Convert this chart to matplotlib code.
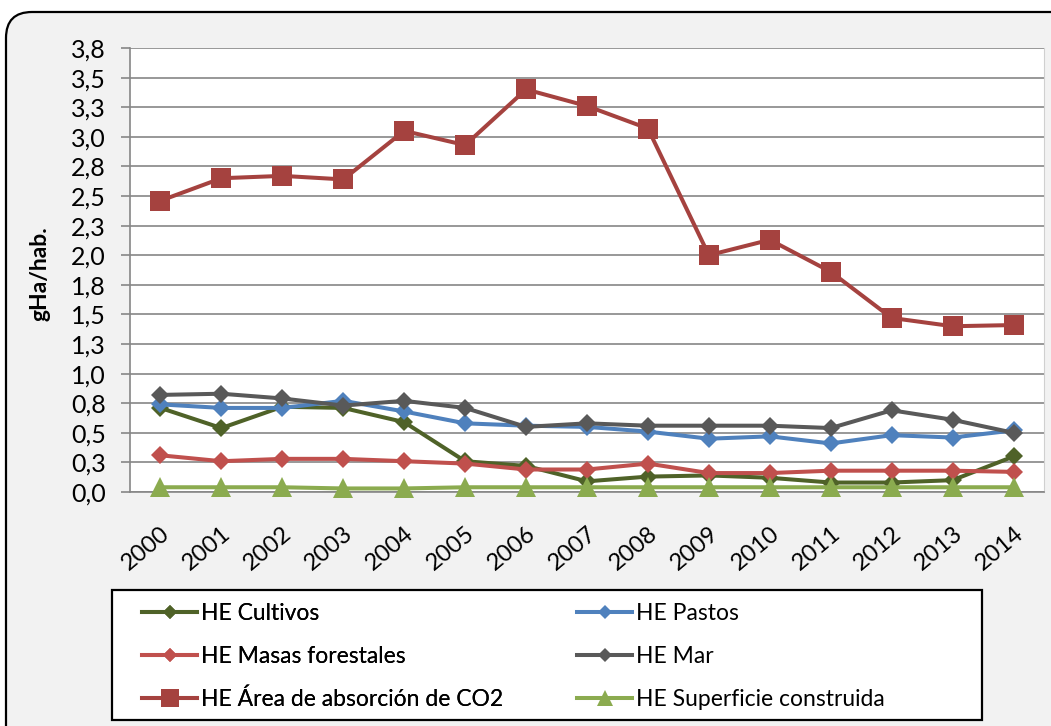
import matplotlib
matplotlib.use("Agg")
import matplotlib.pyplot as plt
from matplotlib.lines import Line2D
from matplotlib.patches import FancyBboxPatch, Rectangle

plt.rcParams["font.family"] = ["Lato", "DejaVu Sans"]

years = [str(y) for y in range(2000, 2015)]
cultivos = [0.71, 0.54, 0.72, 0.71, 0.59, 0.26, 0.22, 0.09, 0.13, 0.14, 0.12, 0.08, 0.08, 0.10, 0.30]
pastos = [0.74, 0.71, 0.71, 0.77, 0.68, 0.58, 0.56, 0.55, 0.51, 0.45, 0.47, 0.41, 0.48, 0.46, 0.52]
masas = [0.31, 0.26, 0.28, 0.28, 0.26, 0.24, 0.19, 0.19, 0.24, 0.16, 0.16, 0.18, 0.18, 0.18, 0.17]
mar = [0.82, 0.83, 0.79, 0.73, 0.77, 0.71, 0.55, 0.58, 0.56, 0.56, 0.56, 0.54, 0.69, 0.61, 0.50]
co2 = [2.46, 2.65, 2.67, 2.64, 3.05, 2.93, 3.40, 3.26, 3.07, 2.00, 2.13, 1.86, 1.47, 1.40, 1.41]
superficie = [0.04, 0.04, 0.04, 0.03, 0.03, 0.04, 0.04, 0.04, 0.04, 0.04, 0.04, 0.04, 0.04, 0.04, 0.04]

y_ticks = [0.0, 0.25, 0.5, 0.75, 1.0, 1.25, 1.5, 1.75, 2.0, 2.25, 2.5, 2.75, 3.0, 3.25, 3.5, 3.75]
y_labels = ["0,0", "0,3", "0,5", "0,8", "1,0", "1,3", "1,5", "1,8",
            "2,0", "2,3", "2,5", "2,8", "3,0", "3,3", "3,5", "3,8"]

# label, values, colour, marker, size in plot, size in legend
series = [
    ("HE Cultivos", cultivos, "#4f6228", "D", 9.5, 7),
    ("HE Pastos", pastos, "#4f81bd", "D", 9.5, 7),
    ("HE Masas forestales", masas, "#c0504d", "D", 9.5, 7),
    ("HE Mar", mar, "#595959", "D", 9.5, 7),
    ("HE Área de absorción de CO2", co2, "#a5423f", "s", 15, 13),
    ("HE Superficie construida", superficie, "#8bab4f", "^", 14.5, 12),
]

W, H = 1051, 726
fig = plt.figure(figsize=(W / 100, H / 100), dpi=100)
fig.patch.set_facecolor("white")

# rounded chart frame, pixel coords
frame = FancyBboxPatch((6, -40), 1100, H - 12 + 40,
                       boxstyle="round,pad=0,rounding_size=26",
                       transform=None, facecolor="#f2f2f2",
                       edgecolor="black", linewidth=1.6, zorder=-5)
fig.add_artist(frame)

ax = fig.add_axes([130 / W, 1 - 492 / H, (1044 - 130) / W, (492 - 48) / H])
ax.set_facecolor("white")

x = list(range(len(years)))
proxies = []
for label, vals, color, marker, ms, lms in series:
    ax.plot(x, vals, color=color, lw=2.9, marker=marker, ms=ms,
            markeredgewidth=0, clip_on=False, zorder=3)
    proxies.append(Line2D([], [], color=color, lw=2.9, marker=marker, ms=lms,
                          markeredgewidth=0, label=label))

ax.set_xlim(-0.5, len(years) - 0.5)
ax.set_ylim(0, 3.75)
ax.set_yticks(y_ticks)
ax.set_yticklabels(y_labels)
ax.set_xticks(x)
ax.set_xticklabels(years, rotation=40, ha="right", va="top", rotation_mode="anchor")
ax.tick_params(axis="y", length=6.5, width=1.2, color="#868686", pad=11, labelsize=18)
ax.tick_params(axis="x", length=0, pad=22, labelsize=17)
ax.grid(axis="y", color="#868686", lw=1.2)
ax.set_axisbelow(True)
ax.spines["top"].set_visible(False)
ax.spines["right"].set_color("#d0d0d0")
for s in ["left", "bottom"]:
    ax.spines[s].set_color("#868686")
    ax.spines[s].set_linewidth(1.2)

fig.text(40 / W, 1 - 274 / H, "gHa/hab.", rotation=90, ha="center", va="center",
         fontsize=16.5, fontweight="bold")

# legend box
fig.add_artist(Rectangle((112, H - 720), 870, 130, transform=None,
                         facecolor="white", edgecolor="black", linewidth=1.6, zorder=1))

col1 = [proxies[0], proxies[2], proxies[4]]
col2 = [proxies[1], proxies[3], proxies[5]]
leg_kw = dict(loc="upper left", frameon=False, fontsize=16.5, handlelength=2.4,
              handletextpad=0.18, labelspacing=0.95, borderaxespad=0, borderpad=0)
leg1 = fig.legend(handles=col1, bbox_to_anchor=(142 / W, 1 - 603 / H), **leg_kw)
fig.add_artist(leg1)
leg2 = fig.legend(handles=col2, bbox_to_anchor=(577 / W, 1 - 603 / H), **leg_kw)

fig.savefig("out.png", dpi=100)
